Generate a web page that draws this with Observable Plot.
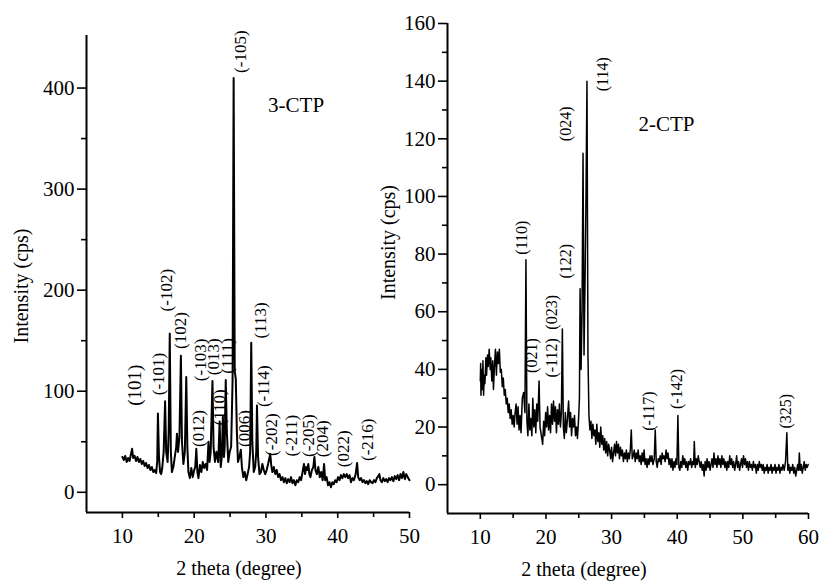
<!DOCTYPE html>
<html>
<head>
<meta charset="utf-8">
<script src="https://cdn.jsdelivr.net/npm/d3@7"></script>
<script src="https://cdn.jsdelivr.net/npm/@observablehq/plot@0.6"></script>
<style>
  html, body { margin: 0; padding: 0; background: #fff; }
  #wrap { position: relative; width: 819px; height: 581px; overflow: hidden; background: #fff; }
  #wrap > svg { position: absolute; top: 0; }
</style>
</head>
<body>
<div id="wrap"></div>
<script>
// ---------- 3-CTP pattern: [2theta, intensity (cps)] ----------
const pattern3 = [
[10.0,35],[10.2,32],[10.4,36],[10.6,30],[10.8,34],[11.0,31],[11.2,38],[11.35,43],[11.5,34],[11.7,36],
[11.9,31],[12.1,35],[12.3,30],[12.5,33],[12.7,28],[12.9,31],[13.1,26],[13.3,29],[13.5,24],[13.7,27],
[13.9,22],[14.1,25],[14.3,20],[14.5,22],[14.7,19],[14.85,30],[14.95,78],[15.1,35],[15.25,20],[15.4,18],
[15.55,24],[15.75,40],[15.95,90],[16.1,40],[16.3,30],[16.45,60],[16.6,157],[16.75,40],[16.9,20],[17.1,25],
[17.3,35],[17.5,45],[17.6,58],[17.75,40],[17.95,55],[18.15,135],[18.3,50],[18.5,28],[18.7,40],[18.9,114],
[19.05,45],[19.2,20],[19.4,14],[19.6,24],[19.8,15],[20.0,22],[20.15,25],[20.3,43],[20.45,20],[20.6,14],
[20.8,27],[21.0,20],[21.2,30],[21.4,24],[21.6,28],[21.8,22],[22.0,50],[22.15,30],[22.3,40],[22.55,110],
[22.7,45],[22.9,30],[23.1,40],[23.35,30],[23.55,70],[23.7,25],[23.85,35],[24.0,75],[24.15,35],[24.25,45],
[24.4,111],[24.55,60],[24.75,30],[24.95,40],[25.15,45],[25.35,110],[25.5,410],[25.65,120],[25.8,112],[25.95,60],
[26.1,30],[26.3,35],[26.5,42],[26.65,25],[26.85,15],[27.05,20],[27.25,12],[27.45,18],[27.65,25],[27.8,40],
[27.95,148],[28.1,50],[28.3,20],[28.5,25],[28.65,40],[28.75,86],[28.9,35],[29.1,18],[29.3,20],[29.5,28],
[29.7,22],[29.9,18],[30.1,22],[30.3,28],[30.6,38],[30.75,26],[30.9,20],[31.1,25],[31.3,18],[31.5,22],
[31.7,15],[31.9,18],[32.1,12],[32.3,15],[32.5,10],[32.7,14],[32.9,9],[33.1,13],[33.3,10],[33.5,15],
[33.7,9],[33.9,12],[34.1,7],[34.3,12],[34.5,10],[34.7,15],[34.9,12],[35.1,20],[35.3,28],[35.45,18],
[35.6,25],[35.75,22],[35.9,28],[36.05,18],[36.2,15],[36.4,22],[36.6,25],[36.75,35],[36.9,22],[37.1,18],
[37.3,25],[37.5,15],[37.7,20],[37.9,12],[38.1,28],[38.25,12],[38.45,15],[38.65,7],[38.85,10],[39.05,5],
[39.25,10],[39.45,8],[39.65,12],[39.85,10],[40.05,15],[40.25,12],[40.45,17],[40.65,14],[40.85,18],[41.05,15],
[41.25,18],[41.45,14],[41.65,17],[41.85,10],[42.05,14],[42.25,12],[42.5,18],[42.7,29],[42.85,15],[43.05,12],
[43.25,14],[43.45,10],[43.65,12],[43.85,9],[44.05,11],[44.25,8],[44.45,12],[44.65,10],[44.85,9],[45.05,12],
[45.25,10],[45.45,14],[45.65,16],[45.8,18],[45.95,12],[46.15,10],[46.35,14],[46.55,11],[46.75,13],[46.95,10],
[47.15,14],[47.35,12],[47.55,15],[47.75,11],[47.95,16],[48.15,13],[48.35,17],[48.55,12],[48.75,18],[48.95,14],
[49.15,20],[49.35,13],[49.55,18],[49.75,15],[50.0,12]
];

// ---------- 2-CTP pattern: [2theta, intensity (cps)] ----------
const pattern2 = [
[10.0,36],[10.05,42],[10.1,31],[10.2,40],[10.3,33],[10.4,43],[10.5,31],[10.6,38],[10.7,35],[10.85,44],
[10.95,38],[11.1,45],[11.2,41],[11.35,47],[11.5,40],[11.6,44],[11.75,36],[11.9,43],[12.0,33],[12.15,41],
[12.3,47],[12.45,38],[12.6,46],[12.75,42],[12.9,47],[13.05,39],[13.2,40],[13.35,34],[13.5,37],[13.65,31],
[13.8,33],[13.95,28],[14.1,30],[14.25,25],[14.4,28],[14.55,23],[14.7,26],[14.85,21],[15.0,24],[15.15,20],
[15.3,25],[15.45,28],[15.6,21],[15.75,27],[15.9,19],[16.05,24],[16.2,18],[16.4,30],[16.6,32],[16.8,25],
[16.95,78],[17.1,22],[17.25,17],[17.4,28],[17.55,19],[17.7,23],[17.85,17],[18.0,30],[18.15,20],[18.3,26],
[18.45,18],[18.6,28],[18.75,22],[18.95,36],[19.1,20],[19.3,17],[19.5,14],[19.65,22],[19.8,17],[19.95,25],
[20.1,20],[20.25,27],[20.4,19],[20.55,24],[20.7,18],[20.85,28],[21.0,21],[21.15,29],[21.3,22],[21.45,27],
[21.6,18],[21.75,26],[21.9,21],[22.05,28],[22.2,20],[22.35,25],[22.5,54],[22.65,20],[22.8,16],[22.95,25],
[23.1,18],[23.25,22],[23.45,29],[23.6,20],[23.75,25],[23.9,17],[24.05,23],[24.2,20],[24.35,24],[24.5,17],
[24.65,20],[24.8,16],[24.95,22],[25.1,30],[25.2,68],[25.35,40],[25.5,60],[25.65,115],[25.8,45],[25.95,70],
[26.1,100],[26.25,140],[26.4,45],[26.55,24],[26.7,19],[26.85,22],[27.0,16],[27.15,21],[27.3,17],[27.45,19],
[27.6,14],[27.75,21],[27.9,15],[28.05,18],[28.2,13],[28.35,20],[28.5,14],[28.65,17],[28.8,12],[28.95,16],
[29.1,11],[29.25,15],[29.4,10],[29.55,14],[29.7,12],[29.85,9],[30.0,13],[30.15,8],[30.3,11],[30.45,14],
[30.6,10],[30.75,15],[30.9,11],[31.05,14],[31.2,9],[31.35,13],[31.5,10],[31.65,12],[31.8,8],[31.95,11],
[32.1,9],[32.25,12],[32.4,8],[32.55,11],[32.7,9],[32.85,12],[33.0,19],[33.15,9],[33.3,10],[33.45,12],
[33.6,8],[33.75,11],[33.9,9],[34.05,12],[34.2,8],[34.35,10],[34.5,7],[34.65,11],[34.8,8],[34.95,12],
[35.1,7],[35.25,9],[35.4,6],[35.55,9],[35.7,7],[35.85,10],[36.0,8],[36.15,10],[36.3,7],[36.5,9],
[36.65,19],[36.8,8],[36.95,6],[37.1,9],[37.25,8],[37.4,10],[37.55,7],[37.7,11],[37.85,9],[38.0,10],
[38.15,8],[38.3,12],[38.45,9],[38.6,11],[38.75,7],[38.9,9],[39.05,6],[39.2,9],[39.35,5],[39.5,8],
[39.65,6],[39.8,9],[39.95,7],[40.1,24],[40.25,6],[40.4,5],[40.55,8],[40.7,6],[40.85,10],[41.0,7],
[41.15,9],[41.3,6],[41.45,8],[41.6,5],[41.75,8],[41.9,7],[42.05,9],[42.2,6],[42.35,8],[42.5,7],
[42.6,15],[42.75,6],[42.9,9],[43.05,7],[43.2,10],[43.35,8],[43.5,6],[43.65,8],[43.8,5],[43.95,7],
[44.1,3],[44.25,8],[44.4,5],[44.55,9],[44.7,6],[44.85,8],[45.0,5],[45.15,7],[45.3,9],[45.45,6],
[45.6,11],[45.75,7],[45.9,9],[46.05,6],[46.2,10],[46.35,7],[46.5,9],[46.65,6],[46.8,10],[46.95,7],
[47.1,9],[47.25,6],[47.4,8],[47.55,5],[47.7,8],[47.85,6],[48.0,10],[48.15,7],[48.3,9],[48.45,6],
[48.6,8],[48.75,5],[48.9,7],[49.05,10],[49.2,6],[49.35,8],[49.5,5],[49.65,7],[49.8,9],[49.95,6],
[50.1,10],[50.25,7],[50.4,9],[50.55,6],[50.7,8],[50.85,5],[51.0,8],[51.15,6],[51.3,7],[51.45,5],
[51.6,8],[51.75,6],[51.9,7],[52.05,4],[52.2,7],[52.35,5],[52.5,8],[52.65,6],[52.8,7],[52.95,5],
[53.1,7],[53.25,4],[53.4,6],[53.55,5],[53.7,7],[53.85,4],[54.0,6],[54.15,5],[54.3,7],[54.45,4],
[54.6,6],[54.75,5],[54.9,7],[55.05,4],[55.2,6],[55.35,5],[55.5,7],[55.65,4],[55.8,6],[55.95,5],
[56.1,7],[56.3,5],[56.5,8],[56.7,18],[56.85,5],[57.0,7],[57.15,4],[57.3,6],[57.45,5],[57.6,7],
[57.75,4],[57.9,6],[58.05,3],[58.2,5],[58.35,7],[58.5,5],[58.6,11],[58.75,5],[58.9,7],[59.05,4],
[59.2,6],[59.35,8],[59.5,5],[59.65,7],[59.8,6],[59.95,7]
];

// ---------- peak (hkl) annotations, anchored in data units ----------
const hkl3 = [
  {t:"(-101)", x:15.05, y:117}, {t:"(-102)", x:16.2, y:200}, {t:"(102)", x:18.1, y:160},
  {t:"(-103)", x:20.85, y:131}, {t:"(013)", x:22.7, y:134}, {t:"(111)", x:24.6, y:135},
  {t:"(012)", x:20.6, y:63}, {t:"(110)", x:23.6, y:84}, {t:"(-105)", x:26.4, y:436},
  {t:"(006)", x:27.0, y:63}, {t:"(113)", x:29.2, y:170}, {t:"(-114)", x:29.65, y:105},
  {t:"(-202)", x:30.8, y:57}, {t:"(-211)", x:33.6, y:56}, {t:"(-205)", x:35.9, y:56},
  {t:"(204)", x:37.9, y:53}, {t:"(022)", x:40.8, y:43}, {t:"(-216)", x:44.2, y:52}
];
const hkl3big = [{t:"(101)", x:11.8, y:106}];
const hkl2 = [
  {t:"(110)", x:16.36, y:85.7}, {t:"(122)", x:23.06, y:77.5}, {t:"(024)", x:23.06, y:125.2},
  {t:"(114)", x:28.65, y:142.4}, {t:"(021)", x:17.9, y:44.8}, {t:"(-112)", x:20.9, y:44},
  {t:"(023)", x:20.9, y:59.8}, {t:"(-117)", x:35.66, y:25.5}, {t:"(-142)", x:39.98, y:33.2},
  {t:"(325)", x:56.5, y:25.5}
];
const sample3 = {t:"3-CTP", x:34.2, y:383};
const sample2 = {t:"2-CTP", x:38.35, y:125};

// ---------- axes ----------
const xDomain3 = [5, 50], yDomain3 = [-20, 452];
const xTicks3 = [10, 20, 30, 40, 50], xMinor3 = [15, 25, 35, 45];
const yTicks3 = [0, 100, 200, 300, 400], yMinor3 = [50, 150, 250, 350];
const xDomain2 = [5, 60], yDomain2 = [-10, 160];
const xTicks2 = [10, 20, 30, 40, 50, 60], xMinor2 = [15, 25, 35, 45, 55];
const yTicks2 = [0, 20, 40, 60, 80, 100, 120, 140, 160], yMinor2 = [10, 30, 50, 70, 90, 110, 130, 150];
const xTitle = "2 theta (degree)", yTitle = "Intensity (cps)";

const FONT = "'Liberation Serif', 'Times New Roman', serif";

function panel({pattern, xDomain, yDomain, xTicks, xMinor, yTicks, yMinor, labels, bigLabels, sample,
                width, ml, mr, mt, mb, labelSize, lineWidth, yTitleDx, yTitleDy, xTitleDx}) {
  const rows = pattern.map(([x, y]) => ({x, y}));
  const axisStyle = {stroke: "#000", strokeOpacity: 1, strokeWidth: 1.6, fill: "#000", fontFamily: FONT, label: null};
  return Plot.plot({
    width, height: 581,
    marginLeft: ml, marginRight: mr, marginTop: mt, marginBottom: mb,
    x: {domain: xDomain},
    y: {domain: yDomain},
    style: {fontFamily: FONT, fontSize: "21px", color: "#000", background: "none", overflow: "visible"},
    marks: [
      Plot.axisX({...axisStyle, ticks: xTicks, tickSize: 6, tickPadding: 10, fontSize: 21, tickFormat: d => String(d)}),
      Plot.axisX({...axisStyle, ticks: xMinor, tickSize: 5, tickFormat: () => ""}),
      Plot.axisY({...axisStyle, ticks: yTicks, tickSize: 9, tickPadding: 3, fontSize: 21, tickFormat: d => String(d)}),
      Plot.axisY({...axisStyle, ticks: yMinor, tickSize: 5, tickFormat: () => ""}),
      Plot.ruleX([xDomain[0]], {y1: yDomain[0], y2: yDomain[1], stroke: "#000", strokeWidth: 2}),
      Plot.ruleY([yDomain[0]], {x1: xDomain[0], x2: xDomain[1], stroke: "#000", strokeWidth: 2}),
      Plot.line(rows, {x: "x", y: "y", stroke: "#000", strokeWidth: lineWidth, strokeLinejoin: "round"}),
      Plot.text(labels, {x: "x", y: "y", text: "t", rotate: -90, fontSize: labelSize, fontFamily: FONT, fill: "#000"}),
      Plot.text(bigLabels, {x: "x", y: "y", text: "t", rotate: -90, fontSize: 19, fontFamily: FONT, fill: "#000"}),
      Plot.text([sample], {x: "x", y: "y", text: "t", fontSize: 21, fontFamily: FONT, fill: "#000"}),
      Plot.text([yTitle], {frameAnchor: "left", textAnchor: "middle", lineAnchor: "middle", dx: yTitleDx, dy: yTitleDy,
                           rotate: -90, fontSize: 20, fontFamily: FONT, fill: "#000"}),
      Plot.text([xTitle], {frameAnchor: "bottom", textAnchor: "middle", lineAnchor: "middle", dx: xTitleDx, dy: 56,
                           fontSize: 20, fontFamily: FONT, fill: "#000"})
    ]
  });
}

const left = panel({
  pattern: pattern3, xDomain: xDomain3, yDomain: yDomain3, xTicks: xTicks3, xMinor: xMinor3,
  yTicks: yTicks3, yMinor: yMinor3, labels: hkl3, bigLabels: hkl3big, sample: sample3,
  width: 415, ml: 86, mr: 6, mt: 35, mb: 69, labelSize: 17, lineWidth: 2,
  yTitleDx: -65, yTitleDy: 12, xTitleDx: -9
});
left.style.left = "0px";

const right = panel({
  pattern: pattern2, xDomain: xDomain2, yDomain: yDomain2, xTicks: xTicks2, xMinor: xMinor2,
  yTicks: yTicks2, yMinor: yMinor2, labels: hkl2, bigLabels: [], sample: sample2,
  width: 459, ml: 87, mr: 11, mt: 23, mb: 68, labelSize: 16, lineWidth: 1.5,
  yTitleDx: -59, yTitleDy: -26, xTitleDx: -44
});
right.style.left = "360px";

const wrap = document.getElementById("wrap");
wrap.appendChild(left);
wrap.appendChild(right);
</script>
</body>
</html>
